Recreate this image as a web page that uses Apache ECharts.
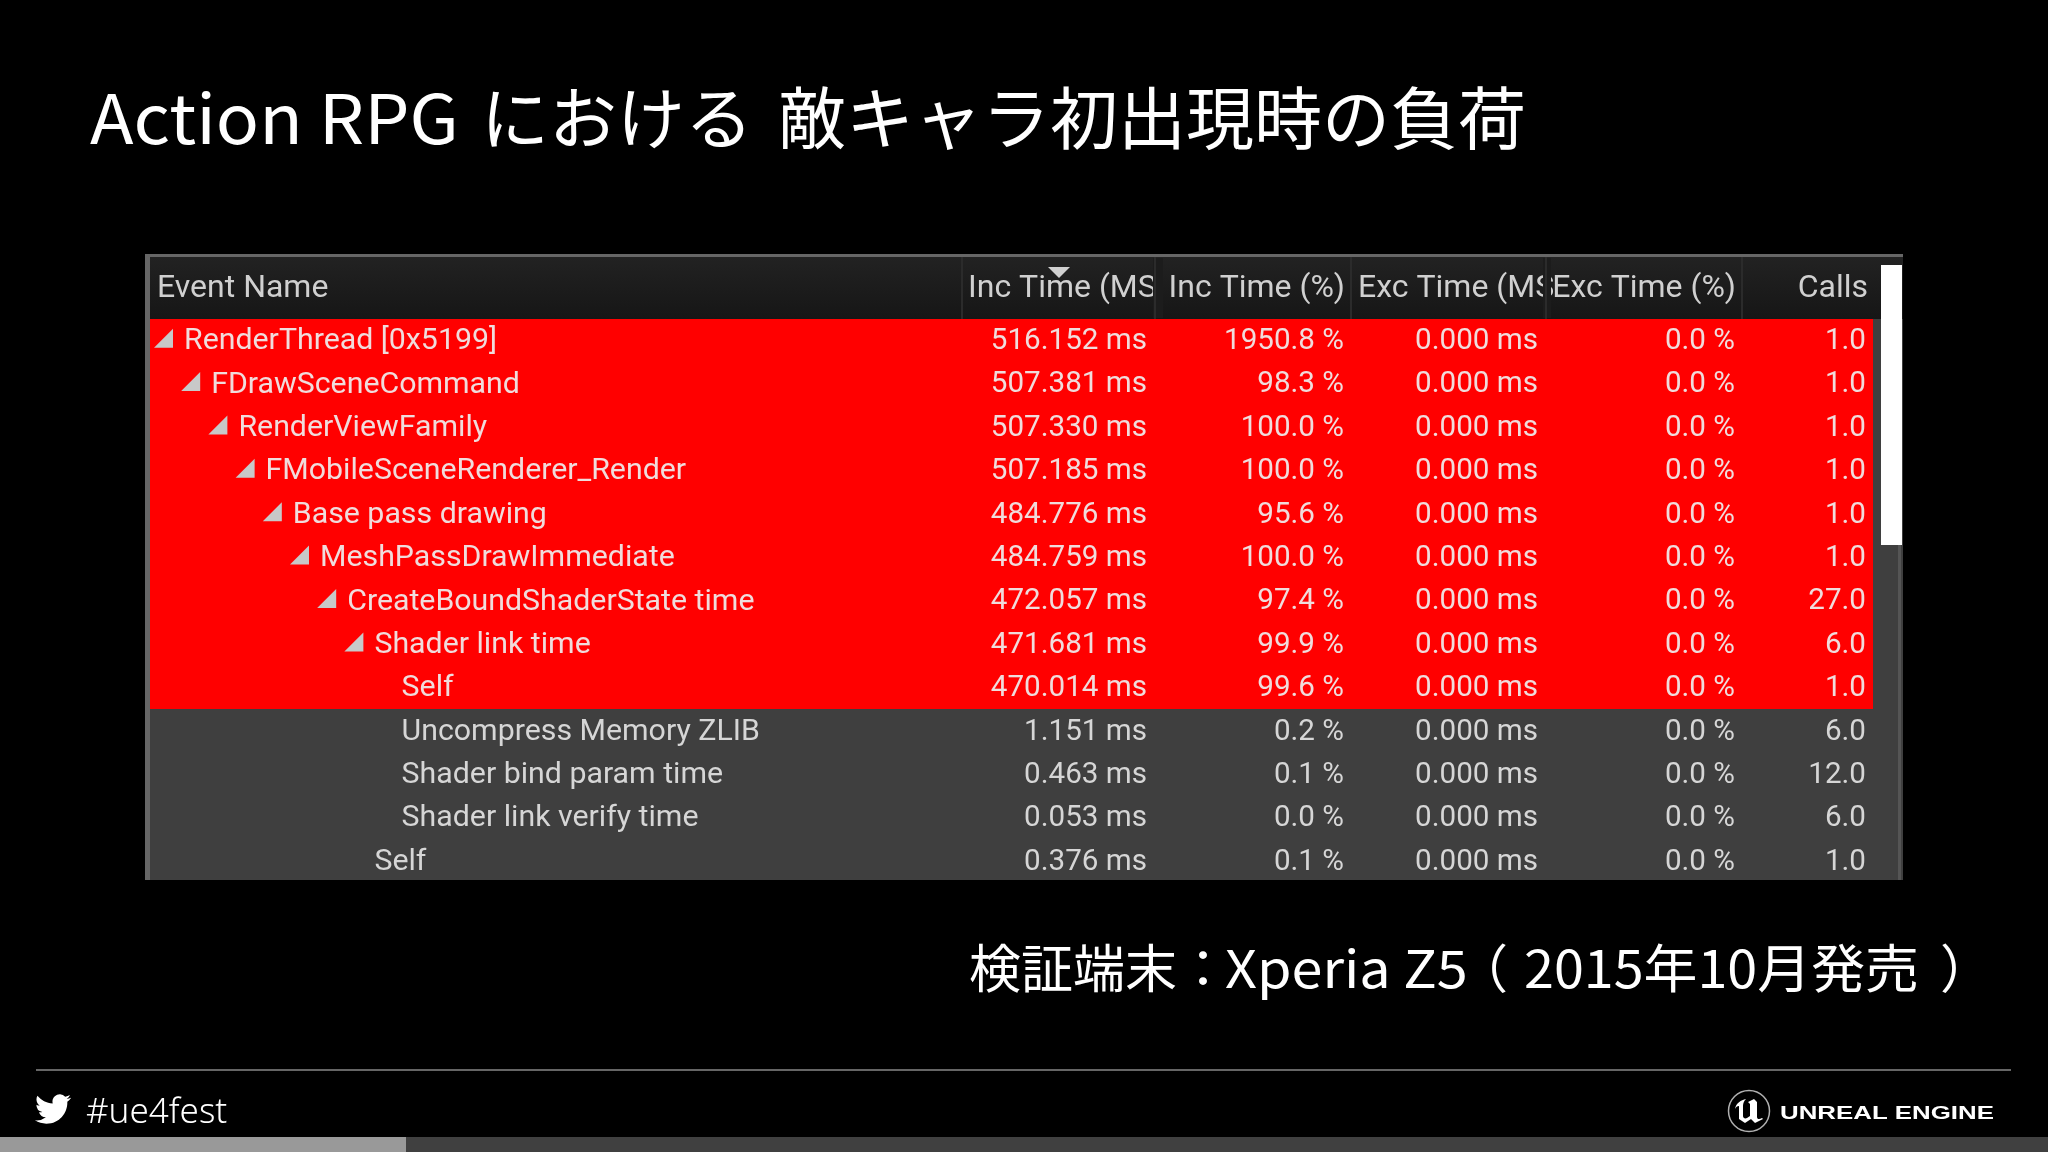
<!DOCTYPE html>
<html>
<head>
<meta charset="utf-8">
<style>
  html, body { margin: 0; padding: 0; background: #000; }
  #main { width: 2048px; height: 1152px; }
</style>
<script src="https://cdn.jsdelivr.net/npm/echarts@6/dist/echarts.min.js"></script>
</head>
<body>
<div id="main"></div>
<script>
const eventNames = [
  'RenderThread [0x5199]', 'FDrawSceneCommand', 'RenderViewFamily', 'FMobileSceneRenderer_Render',
  'Base pass drawing', 'MeshPassDrawImmediate', 'CreateBoundShaderState time', 'Shader link time',
  'Self', 'Uncompress Memory ZLIB', 'Shader bind param time', 'Shader link verify time', 'Self'
]
const depths = [0, 1, 2, 3, 4, 5, 6, 7, 8, 8, 8, 8, 7]
const expanded = [1, 1, 1, 1, 1, 1, 1, 1, 0, 0, 0, 0, 0]
const highlighted = [1, 1, 1, 1, 1, 1, 1, 1, 1, 0, 0, 0, 0]
const incTimeMs = [516.152, 507.381, 507.330, 507.185, 484.776, 484.759, 472.057, 471.681, 470.014, 1.151, 0.463, 0.053, 0.376]
const incTimePct = [1950.8, 98.3, 100.0, 100.0, 95.6, 100.0, 97.4, 99.9, 99.6, 0.2, 0.1, 0.0, 0.1]
const excTimeMs = [0, 0, 0, 0, 0, 0, 0, 0, 0, 0, 0, 0, 0]
const excTimePct = [0, 0, 0, 0, 0, 0, 0, 0, 0, 0, 0, 0, 0]
const calls = [1, 1, 1, 1, 1, 1, 27, 6, 1, 6, 12, 6, 1]
const columnHeaders = ['Event Name', 'Inc Time (MS', 'Inc Time (%)', 'Exc Time (MS', 'Exc Time (%)', 'Calls']

const SANS = '"Noto Sans CJK JP", "Noto Sans", sans-serif'
const NAME_FONT = '30.3px Roboto, sans-serif'
const CELL_FONT = '29.6px Roboto, sans-serif'
// arc flags need separators for the zrender path parser
const BIRD = 'M23.953 4.57 a10 10 0 0 1 -2.825 .775 4.958 4.958 0 0 0 2.163 -2.723 c-.951 .555 -2.005 .959 -3.127 1.184 a4.92 4.92 0 0 0 -8.384 4.482 C7.69 8.095 4.067 6.13 1.64 3.162 a4.822 4.822 0 0 0 -.666 2.475 c0 1.71 .87 3.213 2.188 4.096 a4.904 4.904 0 0 1 -2.228 -.616 v.06 a4.923 4.923 0 0 0 3.946 4.827 4.996 4.996 0 0 1 -2.212 .085 4.936 4.936 0 0 0 4.604 3.417 9.867 9.867 0 0 1 -6.102 2.105 c-.39 0 -.779 -.023 -1.17 -.067 a13.995 13.995 0 0 0 7.557 2.209 c9.053 0 13.998 -7.496 13.998 -13.985 0 -.21 0 -.42 -.015 -.63 A9.935 9.935 0 0 0 24 4.59 z'
const UE_GLYPH = 'M0 10C1 4 6 1 11 0C9 2 8 4 8 7L8 17C8 19 10 20 12 19L15 17L15 5L13 3L19 0L22 3L22 18C22 20 24 21 27 19L28 20L20 24L16 20L10 24L4 20L4 7C2 7 1 8 0 10Z'

echarts.graphic.registerShape('bird', echarts.graphic.extendPath(BIRD, {}))
echarts.graphic.registerShape('ueGlyph', echarts.graphic.extendPath(UE_GLYPH, {}))

const cellText = (x, y, text, align, fill, font) => ({
  type: 'text',
  style: {
    x, y: y + 1, text, fill,
    font: font || CELL_FONT,
    textAlign: align,
    textVerticalAlign: 'middle',
    shadowColor: 'rgba(0,0,0,0.8)',
    shadowBlur: 2,
    shadowOffsetX: 2,
    shadowOffsetY: 2
  }
})

const renderRow = (params, api) => {
  const i = api.value(0)
  const [, y] = api.coord([150, i])
  const h = api.size([0, 1])[1]
  const left = api.coord([150, i])[0]
  const right = api.coord([1873, i])[0]
  const fill = highlighted[i] ? '#f0dcdc' : '#d6d6d6'
  const textX = api.coord([184 + depths[i] * 27.2, i])[0]
  const top = Math.round(y - h / 2)
  const bottom = Math.min(Math.round(y + h / 2), 880)
  const children = [{
    type: 'rect',
    shape: { x: left, y: top, width: right - left, height: bottom - top },
    style: { fill: highlighted[i] ? '#ff0000' : '#3f3f3f' }
  }]
  if (expanded[i]) {
    children.push({
      type: 'polygon',
      shape: { points: [[textX - 30, y + 7], [textX - 11, y + 7], [textX - 11, y - 12]] },
      style: { fill: '#c8c8c8' }
    })
  }
  children.push(
    cellText(textX, y, eventNames[i], 'left', fill, NAME_FONT),
    cellText(api.coord([1147, i])[0], y, incTimeMs[i].toFixed(3) + ' ms', 'right', fill),
    cellText(api.coord([1344, i])[0], y, incTimePct[i].toFixed(1) + ' %', 'right', fill),
    cellText(api.coord([1538, i])[0], y, excTimeMs[i].toFixed(3) + ' ms', 'right', fill),
    cellText(api.coord([1735, i])[0], y, excTimePct[i].toFixed(1) + ' %', 'right', fill),
    cellText(api.coord([1866, i])[0], y, calls[i].toFixed(1), 'right', fill)
  )
  return { type: 'group', children }
}

const plainText = (x, y, text, font, extra, scaleX) => ({
  type: 'text', x, y, z: 10, scaleX: scaleX || 1,
  style: Object.assign({ text, font, fill: '#ffffff', textVerticalAlign: 'middle' }, extra)
})

const rect = (x, y, width, height, fill, z) => ({
  type: 'rect', z: z || 1, shape: { x, y, width, height }, style: { fill }
})

const headerText = (x, text, align, z) => ({
  type: 'text', x, y: 289, z,
  style: {
    text, font: '32px Roboto, sans-serif', fill: '#d0d0d0', textAlign: align,
    textVerticalAlign: 'middle', shadowColor: 'rgba(0,0,0,0.8)', shadowBlur: 2, shadowOffsetX: 1, shadowOffsetY: 2
  }
})

const TITLE_FONT = '400 68px ' + SANS
const NOTE_FONT = '400 52px ' + SANS

const graphics = [
  // title and device note
  plainText(90, 118, 'Action RPG', TITLE_FONT, {}, 1.052),
  plainText(481, 118, 'における', TITLE_FONT),
  plainText(778, 118, '敵キャラ初出現時の負荷', TITLE_FONT),
  plainText(969, 968, '検証端末：', NOTE_FONT),
  plainText(1225, 968, 'Xperia Z5', NOTE_FONT, {}, 1.072),
  plainText(1456, 968, '（', NOTE_FONT),
  plainText(1524, 968, '2015年10月発売', NOTE_FONT, {}, 1.036),
  plainText(1940, 968, '）', NOTE_FONT),

  // table frame
  rect(145, 254, 1758, 626, '#3f3f3f', -1),
  rect(145, 254, 1758, 3, '#666666', 2),
  rect(145, 254, 5, 626, '#666666', 2),
  {
    type: 'rect', z: 2,
    shape: { x: 150, y: 257, width: 1753, height: 62 },
    style: {
      fill: { type: 'linear', x: 0, y: 0, x2: 0, y2: 1, colorStops: [{ offset: 0, color: '#222222' }, { offset: 1, color: '#161616' }] }
    }
  },
  rect(1898, 545, 3, 335, '#555555', 3),
  rect(1881, 265, 21, 280, '#ffffff', 12),

  // column headers, the two clipped ones get a cover rect
  headerText(157, columnHeaders[0], 'left', 5),
  headerText(968, columnHeaders[1], 'left', 5),
  rect(1153, 258, 10, 60, '#1c1c1c', 6),
  headerText(1345, columnHeaders[2], 'right', 7),
  headerText(1358, columnHeaders[3], 'left', 5),
  rect(1543, 258, 8, 60, '#1c1c1c', 6),
  headerText(1736, columnHeaders[4], 'right', 7),
  headerText(1868, columnHeaders[5], 'right', 7),
  rect(961, 257, 2, 62, '#2b2b2b', 8),
  rect(1154, 257, 2, 62, '#2b2b2b', 8),
  rect(1350, 257, 2, 62, '#2b2b2b', 8),
  rect(1545, 257, 2, 62, '#2b2b2b', 8),
  rect(1741, 257, 2, 62, '#2b2b2b', 8),
  { type: 'polygon', z: 9, shape: { points: [[1048, 267], [1070, 267], [1059, 278]] }, style: { fill: '#d0d0d0' } },

  // footer
  rect(36, 1069, 1975, 2, '#666666', 1),
  rect(0, 1137, 2048, 15, '#404040', 1),
  rect(0, 1137, 406, 15, '#999999', 2),
  { type: 'bird', z: 5, x: 35, y: 1091, scaleX: 1.5, scaleY: 1.5, style: { fill: '#ffffff' } },
  plainText(86, 1113, '#ue4fest', '300 35px "Noto Sans", sans-serif'),
  {
    type: 'circle', z: 5,
    shape: { cx: 1749, cy: 1111, r: 20.5 },
    style: { fill: '#000000', stroke: '#b0b0b0', lineWidth: 1.5 }
  },
  { type: 'ueGlyph', z: 6, x: 1735, y: 1099, style: { fill: '#ffffff' } },
  plainText(1780, 1114, 'UNREAL ENGINE', 'bold 19px "Liberation Sans", sans-serif', {}, 1.36)
]

const chart = echarts.init(document.getElementById('main'))
chart.setOption({
  backgroundColor: '#000000',
  animation: false,
  grid: { left: 150, top: 319, width: 1724, height: 564 },
  xAxis: { type: 'value', min: 150, max: 1874, show: false },
  yAxis: { type: 'category', data: eventNames.map((n, i) => i), inverse: true, show: false },
  graphic: { elements: graphics },
  series: [{
    type: 'custom',
    silent: true,
    clip: false,
    renderItem: renderRow,
    encode: { y: 0 },
    data: eventNames.map((n, i) => [i])
  }]
})
</script>
</body>
</html>
